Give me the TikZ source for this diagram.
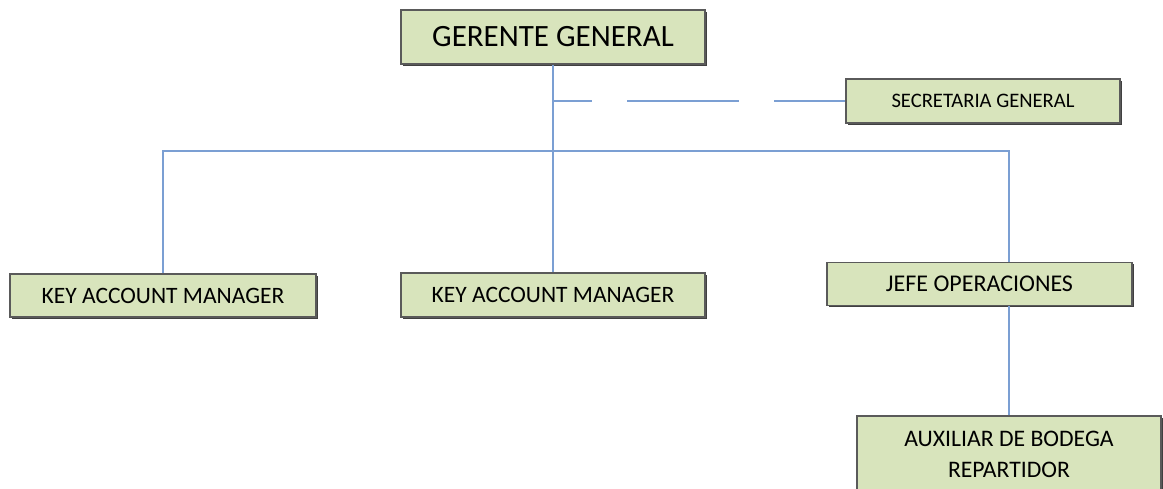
\documentclass[tikz,border=0pt]{standalone}
\usepackage{fontspec}
\setmainfont{Carlito}
\usetikzlibrary{shadows}
\definecolor{boxfill}{HTML}{D8E4BC}
\definecolor{boxline}{HTML}{5A5A5A}
\definecolor{conn}{HTML}{7B9FD3}
\tikzset{
  orgbox/.style={draw=boxline, line width=1.3pt, fill=boxfill, inner sep=0pt, align=center,
    drop shadow={shadow xshift=1.6pt, shadow yshift=-1.6pt, fill=black!75, opacity=1}},
  link/.style={draw=conn, line width=1.8pt}
}
\begin{document}
\begin{tikzpicture}[x=1pt,y=-1pt]
\useasboundingbox (0,0) rectangle (1163,489);
\clip (0,0) rectangle (1163,489);
\node[orgbox, minimum width=304pt, minimum height=54pt, font=\fontsize{31}{35}\selectfont] (gg) at (553,37) {GERENTE GENERAL};
\node[orgbox, minimum width=274pt, minimum height=44pt, font=\fontsize{20.6}{24}\selectfont] (sec) at (983,101) {SECRETARIA GENERAL};
\node[orgbox, minimum width=306pt, minimum height=43pt, font=\fontsize{23.5}{27}\selectfont] (kam1) at (163,295.5) {KEY ACCOUNT MANAGER};
\node[orgbox, minimum width=304pt, minimum height=44pt, font=\fontsize{23.5}{27}\selectfont] (kam2) at (553,295) {KEY ACCOUNT MANAGER};
\node[orgbox, minimum width=305pt, minimum height=43pt, font=\fontsize{24}{28}\selectfont] (jefe) at (979.5,284) {JEFE OPERACIONES};
\node[orgbox, minimum width=304pt, minimum height=76pt, font=\fontsize{23.7}{31}\selectfont] (aux) at (1009,454) {AUXILIAR DE BODEGA\\REPARTIDOR};
\coordinate (bus) at (164,151);
\coordinate (tap) at (552,101);
\draw[link] (gg.south) -- (kam2.north);
\draw[link, dash pattern=on 40pt off 35pt on 112pt off 35pt on 80pt] (tap) -- (sec.west);
\draw[link] (kam1.north) -- (kam1.north |- bus) -- (aux.north |- bus) -- (aux.north |- jefe.north);
\draw[link] (aux.north) -- (aux.north |- jefe.south);
\end{tikzpicture}
\end{document}
